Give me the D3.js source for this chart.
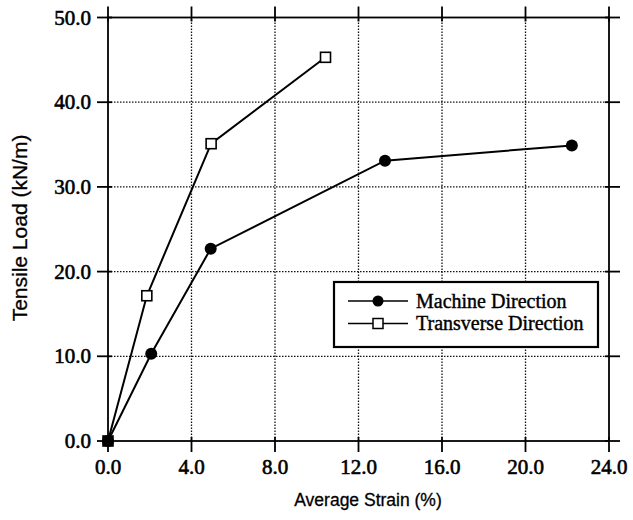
<!DOCTYPE html>
<meta charset="utf-8">
<head>
    <title>Tensile Load vs Average Strain</title>
    <script type="text/javascript" src="https://d3js.org/d3.v7.min.js"></script>
    <style type="text/css">
        body { margin: 0; background: #ffffff; }
        /* scanned text looks heavy, a thin stroke thickens it a bit */
        .tick-label { font-family: "Liberation Serif", "Times New Roman", serif; font-size: 21px; fill: #000; stroke: #000; stroke-width: 0.6px; }
        .axis-title { font-family: "Liberation Sans", Arial, sans-serif; fill: #000; stroke: #000; stroke-width: 0.3px; }
        .legend-text { font-family: "Liberation Serif", "Times New Roman", serif; font-size: 20px; fill: #000; stroke: #000; stroke-width: 0.4px; }
    </style>
</head>
<body>
    <div id="chart"></div>
    <script>
        // data
        var xTicks = [0, 4, 8, 12, 16, 20, 24];
        var yTicks = [0, 10, 20, 30, 40, 50];
        var machineStrain = [0, 2.07, 4.92, 13.27, 22.22];
        var machineLoad = [0, 10.3, 22.7, 33.1, 34.9];
        var transStrain = [0, 1.86, 4.94, 10.42];
        var transLoad = [0, 17.15, 35.1, 45.3];
        var seriesNames = ["Machine Direction", "Transverse Direction"];

        var width = 633;
        var height = 520;
        var margin = {top: 17.5, right: 24, bottom: 79, left: 108};

        var svg = d3.select("#chart")
            .append("svg")
            .attr("width", width)
            .attr("height", height);

        var x = d3.scaleLinear().domain([0, 24]).range([margin.left, width - margin.right]);
        var y = d3.scaleLinear().domain([0, 50]).range([height - margin.bottom, margin.top]);

        var fmt = d3.format(".1f");

        // dotted grid
        svg.append("g")
            .selectAll("line")
            .data(xTicks.slice(1, -1))
            .enter()
            .append("line")
            .attr("x1", d => x(d)).attr("x2", d => x(d))
            .attr("y1", y(0)).attr("y2", y(50))
            .attr("stroke", "#111")
            .attr("stroke-width", 1.3)
            .attr("stroke-dasharray", "1.5,1.5");
        svg.append("g")
            .selectAll("line")
            .data(yTicks.slice(1, -1))
            .enter()
            .append("line")
            .attr("x1", x(0)).attr("x2", x(24))
            .attr("y1", d => y(d)).attr("y2", d => y(d))
            .attr("stroke", "#111")
            .attr("stroke-width", 1.3)
            .attr("stroke-dasharray", "1.5,1.5");

        // frame
        svg.append("rect")
            .attr("x", x(0)).attr("y", y(50))
            .attr("width", x(24) - x(0)).attr("height", y(0) - y(50))
            .attr("fill", "none")
            .attr("stroke", "#000")
            .attr("stroke-width", 1.8);

        // ticks on all four sides, sticking out
        var tickOut = 11, tickIn = 4;
        xTicks.forEach(function(d) {
            svg.append("line")
                .attr("x1", x(d)).attr("x2", x(d))
                .attr("y1", y(0) - tickIn).attr("y2", y(0) + tickOut)
                .attr("stroke", "#000").attr("stroke-width", 1.8);
            svg.append("line")
                .attr("x1", x(d)).attr("x2", x(d))
                .attr("y1", y(50) - tickOut).attr("y2", y(50) + tickIn)
                .attr("stroke", "#000").attr("stroke-width", 1.8);
        });
        yTicks.forEach(function(d) {
            svg.append("line")
                .attr("x1", x(0) - tickOut).attr("x2", x(0) + tickIn)
                .attr("y1", y(d)).attr("y2", y(d))
                .attr("stroke", "#000").attr("stroke-width", 1.8);
            svg.append("line")
                .attr("x1", x(24) - tickIn).attr("x2", x(24) + tickOut)
                .attr("y1", y(d)).attr("y2", y(d))
                .attr("stroke", "#000").attr("stroke-width", 1.8);
        });

        // tick labels
        svg.append("g")
            .selectAll("text")
            .data(xTicks)
            .enter()
            .append("text")
            .attr("class", "tick-label")
            .attr("x", d => x(d))
            .attr("y", y(0) + 33)
            .attr("text-anchor", "middle")
            .text(d => fmt(d));
        svg.append("g")
            .selectAll("text")
            .data(yTicks)
            .enter()
            .append("text")
            .attr("class", "tick-label")
            .attr("x", x(0) - 17)
            .attr("y", d => y(d) + 7)
            .attr("text-anchor", "end")
            .text(d => fmt(d));

        // axis titles
        svg.append("text")
            .attr("class", "axis-title")
            .attr("x", 368)
            .attr("y", 506)
            .attr("text-anchor", "middle")
            .style("font-size", "17.5px")
            .text("Average Strain (%)");
        svg.append("text")
            .attr("class", "axis-title")
            .attr("transform", "translate(27,228) rotate(-90)")
            .attr("text-anchor", "middle")
            .style("font-size", "21px")
            .text("Tensile Load (kN/m)");

        // series lines
        var line = d3.line().x(d => x(d[0])).y(d => y(d[1]));
        var machine = machineStrain.map((d, i) => [d, machineLoad[i]]);
        var trans = transStrain.map((d, i) => [d, transLoad[i]]);

        svg.append("path").datum(machine)
            .attr("d", line).attr("fill", "none")
            .attr("stroke", "#000").attr("stroke-width", 2);
        svg.append("path").datum(trans)
            .attr("d", line).attr("fill", "none")
            .attr("stroke", "#000").attr("stroke-width", 2);

        // markers
        svg.append("g")
            .selectAll("circle")
            .data(machine)
            .enter()
            .append("circle")
            .attr("cx", d => x(d[0])).attr("cy", d => y(d[1]))
            .attr("r", 6)
            .attr("fill", "#000");
        var sq = 10;
        svg.append("g")
            .selectAll("rect")
            .data(trans)
            .enter()
            .append("rect")
            .attr("x", d => x(d[0]) - sq / 2).attr("y", d => y(d[1]) - sq / 2)
            .attr("width", sq).attr("height", sq)
            // where it sits on a machine point the scan shows it solid
            .attr("fill", d => machine.some(m => m[0] === d[0] && m[1] === d[1]) ? "#000" : "#fff")
            .attr("stroke", "#000")
            .attr("stroke-width", 1.6);

        // legend
        var lg = svg.append("g");
        lg.append("rect")
            .attr("x", 334).attr("y", 282)
            .attr("width", 264).attr("height", 65)
            .attr("fill", "#fff")
            .attr("stroke", "#000")
            .attr("stroke-width", 2.2);
        seriesNames.forEach(function(name, i) {
            var ly = 301 + i * 22.5;
            lg.append("line")
                .attr("x1", 348).attr("x2", 408)
                .attr("y1", ly).attr("y2", ly)
                .attr("stroke", "#000").attr("stroke-width", 1.6);
            if (i === 0) {
                lg.append("circle").attr("cx", 378).attr("cy", ly).attr("r", 5.5).attr("fill", "#000");
            } else {
                lg.append("rect")
                    .attr("x", 378 - sq / 2).attr("y", ly - sq / 2)
                    .attr("width", sq).attr("height", sq)
                    .attr("fill", "#fff").attr("stroke", "#000").attr("stroke-width", 1.5);
            }
            lg.append("text")
                .attr("class", "legend-text")
                .attr("x", 416)
                .attr("y", ly + 6.5)
                .text(name);
        });
    </script>
</body>
</html>
